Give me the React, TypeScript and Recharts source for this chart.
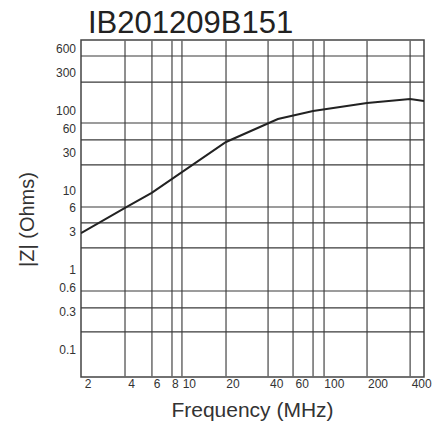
import React from 'react';
import {
    LineChart, Line, XAxis, YAxis, ReferenceLine, ReferenceArea, Label,
} from 'recharts';

// impedance curve (MHz, Ohms)
const freq = [1.79, 3.6, 5.5, 17.9, 40.8, 71.3, 168, 333, 415];
const impedance = [2.9, 6.0, 9.3, 40.4, 78.5, 99, 124.5, 140, 132];

const xTicks = [2, 4, 6, 8, 10, 20, 40, 60, 100, 200, 400];
const yTicks = [0.1, 0.3, 0.6, 1, 3, 6, 10, 30, 60, 100, 300, 600];

// the printed grid does not sit on the tick values
const gridX = [3.6, 5.52, 7.59, 8.89, 17.9, 34.9, 51.9, 71.3, 84.9, 168, 333];
const gridY = [484, 228, 69.9, 42.8, 20.8, 6.17, 3.89, 1.89, 0.545, 0.334, 0.167];

const xDomain = [1.79, 415];
const yDomain = [0.0454, 769];

const data = freq.map((f, i) => ({ f, z: impedance[i] }));

const FONT = '"Liberation Sans", Arial, sans-serif';
const tickStyle = { fill: '#333', fontSize: 12, fontFamily: FONT };

export default function App() {
    return (
        <div style={{ position: 'absolute', left: 0, top: 0, width: 443, height: 421, fontFamily: FONT, background: '#fff' }}>
            <div style={{
                position: 'absolute', left: 88, top: 7, fontSize: 31, lineHeight: '31px',
                color: '#222', whiteSpace: 'nowrap',
            }}>
                IB201209B151
            </div>
            <LineChart width={443} height={421} data={data} margin={{ top: 40, right: 19, bottom: 0, left: 0 }}>
                <XAxis
                    dataKey="f" type="number" scale="log" domain={xDomain} allowDataOverflow
                    ticks={xTicks} interval={0} height={44}
                    axisLine={false} tickLine={false} tickSize={1} tickMargin={1} tick={tickStyle}
                >
                    <Label value="Frequency (MHz)" position="insideBottom" offset={4}
                        style={{ fontSize: 21, fill: '#333', fontFamily: FONT }} />
                </XAxis>
                <YAxis
                    type="number" scale="log" domain={yDomain} allowDataOverflow
                    ticks={yTicks} interval={0} width={81}
                    axisLine={false} tickLine={false} tickSize={3} tickMargin={2} tick={tickStyle}
                >
                    <Label value="|Z| (Ohms)" position="center" angle={-90} dx={-14} dy={11}
                        style={{ fontSize: 20, fill: '#333', fontFamily: FONT }} />
                </YAxis>
                {gridX.map((v) => (
                    <ReferenceLine key={'x' + v} x={v} stroke="#6a6a6a" strokeWidth={1.5} />
                ))}
                {gridY.map((v) => (
                    <ReferenceLine key={'y' + v} y={v} stroke="#3a3a3a" strokeWidth={1.2} />
                ))}
                <ReferenceArea
                    x1={xDomain[0]} x2={xDomain[1]} y1={yDomain[0]} y2={yDomain[1]}
                    fill="none" fillOpacity={0} stroke="#444" strokeWidth={1.5}
                />
                <Line
                    dataKey="z" type="linear" stroke="#222" strokeWidth={2}
                    dot={false} isAnimationActive={false}
                />
            </LineChart>
        </div>
    );
}
